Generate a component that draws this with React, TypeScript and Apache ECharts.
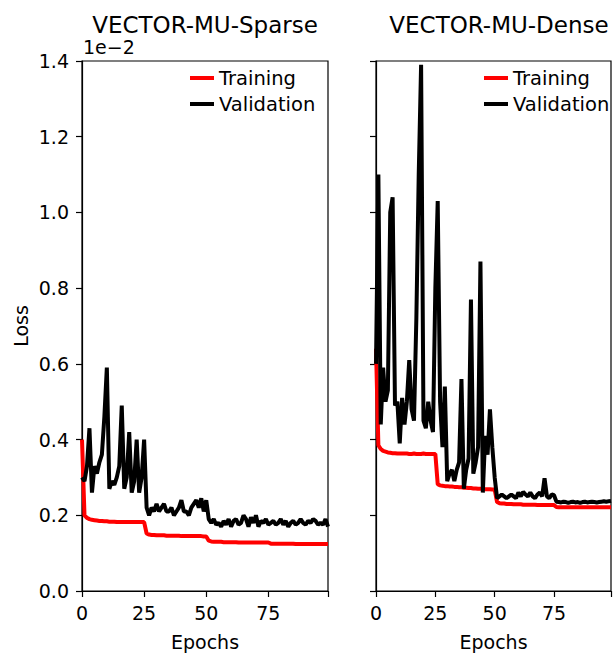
import React, { useEffect, useRef } from "react";
import * as echarts from "echarts";

// Loss values are in units of 1e-2; index = epoch (0..99)
const sparseTraining = [
  0.40, 0.200, 0.193, 0.190, 0.188, 0.187, 0.186, 0.185, 0.185, 0.184,
  0.184, 0.183, 0.183, 0.183, 0.182, 0.182, 0.182, 0.182, 0.182, 0.182,
  0.182, 0.182, 0.182, 0.182, 0.182, 0.182, 0.152, 0.149, 0.148, 0.148,
  0.147, 0.147, 0.147, 0.147, 0.146, 0.146, 0.146, 0.146, 0.146, 0.146,
  0.145, 0.145, 0.145, 0.145, 0.145, 0.145, 0.145, 0.145, 0.145, 0.144,
  0.144, 0.133, 0.131, 0.130, 0.130, 0.130, 0.130, 0.129, 0.129, 0.129,
  0.129, 0.129, 0.129, 0.128, 0.128, 0.128, 0.128, 0.128, 0.128, 0.128,
  0.128, 0.128, 0.128, 0.128, 0.128, 0.128, 0.125, 0.125, 0.125, 0.125,
  0.125, 0.125, 0.125, 0.125, 0.125, 0.125, 0.124, 0.124, 0.124, 0.124,
  0.124, 0.124, 0.124, 0.124, 0.124, 0.124, 0.124, 0.124, 0.124, 0.124,
];

const sparseValidation = [
  0.30, 0.29, 0.33, 0.43, 0.26, 0.33, 0.31, 0.34, 0.36, 0.46,
  0.59, 0.27, 0.29, 0.28, 0.30, 0.33, 0.49, 0.27, 0.30, 0.42,
  0.26, 0.29, 0.40, 0.26, 0.30, 0.40, 0.22, 0.20, 0.22, 0.21,
  0.23, 0.21, 0.22, 0.23, 0.21, 0.21, 0.22, 0.20, 0.21, 0.22,
  0.24, 0.21, 0.21, 0.20, 0.22, 0.23, 0.24, 0.22, 0.245, 0.21,
  0.24, 0.19, 0.18, 0.19, 0.175, 0.18, 0.17, 0.185, 0.175, 0.19,
  0.17, 0.185, 0.19, 0.175, 0.18, 0.20, 0.19, 0.17, 0.195, 0.18,
  0.20, 0.17, 0.185, 0.18, 0.19, 0.175, 0.18, 0.185, 0.175, 0.18,
  0.19, 0.175, 0.185, 0.17, 0.18, 0.185, 0.175, 0.18, 0.19, 0.18,
  0.175, 0.185, 0.18, 0.19, 0.185, 0.175, 0.18, 0.175, 0.19, 0.17,
];

const denseTraining = [
  0.64, 0.385, 0.375, 0.370, 0.368, 0.366, 0.365, 0.364, 0.364, 0.363,
  0.363, 0.363, 0.363, 0.363, 0.362, 0.362, 0.363, 0.362, 0.362, 0.362,
  0.363, 0.362, 0.362, 0.362, 0.362, 0.362, 0.282, 0.279, 0.278, 0.277,
  0.277, 0.276, 0.276, 0.275, 0.275, 0.274, 0.274, 0.273, 0.273, 0.272,
  0.272, 0.271, 0.271, 0.270, 0.270, 0.270, 0.269, 0.269, 0.269, 0.268,
  0.268, 0.235, 0.232, 0.231, 0.231, 0.230, 0.230, 0.230, 0.229, 0.229,
  0.229, 0.229, 0.228, 0.228, 0.228, 0.228, 0.228, 0.228, 0.227, 0.227,
  0.227, 0.227, 0.227, 0.227, 0.227, 0.227, 0.222, 0.221, 0.221, 0.221,
  0.221, 0.221, 0.221, 0.221, 0.221, 0.221, 0.221, 0.221, 0.221, 0.221,
  0.221, 0.221, 0.221, 0.221, 0.221, 0.221, 0.221, 0.221, 0.221, 0.221,
];

const denseValidation = [
  0.60, 1.10, 0.44, 0.59, 0.50, 0.53, 1.00, 1.04, 0.49, 0.50,
  0.39, 0.51, 0.44, 0.50, 0.61, 0.48, 0.45, 0.72, 1.10, 1.39,
  0.45, 0.43, 0.50, 0.45, 0.42, 0.80, 1.03, 0.50, 0.38, 0.54,
  0.29, 0.31, 0.32, 0.29, 0.32, 0.34, 0.56, 0.27, 0.32, 0.35,
  0.77, 0.31, 0.34, 0.38, 0.87, 0.26, 0.41, 0.36, 0.48, 0.38,
  0.30, 0.245, 0.25, 0.255, 0.25, 0.245, 0.25, 0.255, 0.25, 0.245,
  0.26, 0.25, 0.262, 0.255, 0.25, 0.26, 0.25, 0.245, 0.255, 0.26,
  0.25, 0.298, 0.25, 0.245, 0.255, 0.253, 0.236, 0.235, 0.234, 0.236,
  0.235, 0.233, 0.235, 0.236, 0.234, 0.235, 0.233, 0.235, 0.236, 0.234,
  0.235, 0.236, 0.235, 0.234, 0.235, 0.236, 0.237, 0.236, 0.237, 0.238,
];

const panelTitles = ["VECTOR-MU-Sparse", "VECTOR-MU-Dense"];
const seriesNames = ["Training", "Validation"];
const xTickLabels = [0, 25, 50, 75];
const yTickLabels = [0.0, 0.2, 0.4, 0.6, 0.8, 1.0, 1.2, 1.4];

const FONT = "DejaVu Sans";
const FS = 19;

const pairs = (arr: number[]) => arr.map((v, i) => [i, v]);

export default function App() {
  const ref = useRef<HTMLDivElement>(null);
  useEffect(() => {
    if (!ref.current) return;
    const chart = echarts.init(ref.current, undefined, { renderer: "svg" });
    const gridLefts = [82, 376];
    const gridW = 246;
    const mkX = (gi: number) => ({
      gridIndex: gi,
      type: "value",
      min: 0,
      max: 99,
      interval: 25,
      axisLine: { show: true, lineStyle: { color: "#000", width: 1.2 } },
      axisTick: { show: true, length: 6, lineStyle: { color: "#000", width: 1.2 } },
      axisLabel: {
        color: "#000",
        fontSize: FS,
        fontFamily: FONT,
        margin: 12,
        formatter: (v: number) => (xTickLabels.includes(v) ? String(v) : ""),
      },
      splitLine: { show: false },
      name: "Epochs",
      nameLocation: "middle",
      nameGap: 41,
      nameTextStyle: { color: "#000", fontSize: FS, fontFamily: FONT },
    });
    const mkY = (gi: number) => ({
      gridIndex: gi,
      type: "value",
      min: 0,
      max: 1.4,
      interval: 0.2,
      axisLine: { show: true, lineStyle: { color: "#000", width: 1.2 } },
      axisTick: { show: true, length: 6, lineStyle: { color: "#000", width: 1.2 } },
      axisLabel: {
        show: gi === 0,
        color: "#000",
        fontSize: FS,
        fontFamily: FONT,
        margin: 13,
        formatter: (v: number) => {
          const m = yTickLabels.find((t) => Math.abs(t - v) < 1e-6);
          return m !== undefined ? m.toFixed(1) : "";
        },
      },
      splitLine: { show: false },
      name: gi === 0 ? "Loss" : "",
      nameLocation: "middle",
      nameGap: 52,
      nameRotate: 90,
      nameTextStyle: { color: "#000", fontSize: FS, fontFamily: FONT },
    });
    const data = [
      [sparseTraining, sparseValidation],
      [denseTraining, denseValidation],
    ];
    const colors = ["#ff0000", "#000000"];
    const series: any[] = [];
    data.forEach((pair, gi) => {
      pair.forEach((arr, si) => {
        series.push({
          type: "line",
          name: seriesNames[si],
          xAxisIndex: gi,
          yAxisIndex: gi,
          data: pairs(arr),
          showSymbol: false,
          symbol: "none",
          lineStyle: { color: colors[si], width: 4 },
          itemStyle: { color: colors[si] },
          z: 2 + si,
        });
      });
    });
    chart.setOption({
      animation: false,
      backgroundColor: "#ffffff",
      textStyle: { fontFamily: FONT },
      title: panelTitles.map((t, i) => ({
        text: t,
        left: gridLefts[i] + gridW / 2,
        top: 13,
        padding: 0,
        textAlign: "center",
        textStyle: { color: "#000", fontSize: 23, fontWeight: "normal", fontFamily: FONT },
      })),
      legend: gridLefts.map((gl) => ({
        left: gl + 108,
        top: 68,
        padding: 0,
        orient: "vertical",
        icon: "rect",
        itemWidth: 24,
        itemHeight: 4,
        itemGap: 6,
        itemStyle: { borderWidth: 0 },
        selectedMode: false,
        textStyle: { color: "#000", fontSize: 19.5, fontFamily: FONT, lineHeight: 19 },
        data: seriesNames,
      })),
      grid: gridLefts.map((gl) => ({
        left: gl,
        top: 61,
        width: gridW,
        height: 536,
        show: true,
        borderColor: "#000",
        borderWidth: 1.2,
        backgroundColor: "transparent",
        containLabel: false,
      })),
      xAxis: [mkX(0), mkX(1)],
      yAxis: [mkY(0), mkY(1)],
      series,
      graphic: [
        {
          type: "text",
          left: 83,
          top: 37,
          style: { text: "1e\u22122", fill: "#000", fontSize: FS, fontFamily: FONT },
        },
      ],
    });
    return () => chart.dispose();
  }, []);
  return (
    <div
      ref={ref}
      style={{ position: "absolute", left: 0, top: 0, width: 614, height: 656, background: "#fff" }}
    />
  );
}
